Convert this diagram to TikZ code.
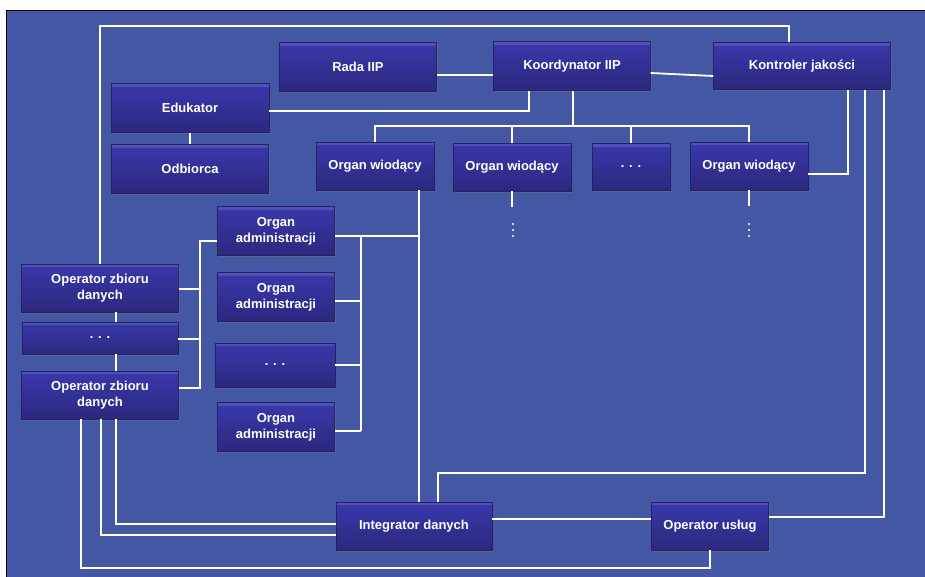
\documentclass[tikz,border=0pt]{standalone}
\usepackage{fontspec}
\setmainfont{Liberation Sans}
\usetikzlibrary{shadows}

\definecolor{slideblue}{RGB}{67,87,165}
\definecolor{boxtop}{RGB}{58,56,172}
\definecolor{boxbot}{RGB}{44,40,126}
\definecolor{boxedge}{RGB}{36,34,100}

\tikzset{
  unit/.style={rectangle, inner sep=0pt, align=center, text=white,
    font=\fontsize{13}{16}\selectfont\bfseries,
    top color=boxtop, bottom color=boxbot, draw=boxedge, line width=0.4pt,
    path picture={\fill[white, opacity=0.12] (path picture bounding box.north west)
      rectangle ([yshift=-3pt]path picture bounding box.north east);},
    drop shadow={shadow xshift=1pt, shadow yshift=-1.5pt, opacity=0.35}},
  link/.style={draw=white, line width=1.8pt},
}

\begin{document}
\begin{tikzpicture}[x=1pt, y=-1pt]

  % Slide frame
  \useasboundingbox (0,0) rectangle (925,576);
  \fill[white] (0,0) rectangle (925,576);
  \draw[fill=slideblue, line width=1pt] (6,10) rectangle (926,577);

  % Top row
  \node[unit, minimum width=157, minimum height=49] (rada)  at (358, 67) {Rada IIP};
  \node[unit, minimum width=157, minimum height=49] (koord) at (572, 66) {Koordynator IIP};
  \node[unit, minimum width=177, minimum height=47] (kontr) at (802, 66) {Kontroler jakości};

  \node[unit, minimum width=158, minimum height=49] (eduk) at (190, 108) {Edukator};
  \node[unit, minimum width=157, minimum height=49] (odb)  at (190, 169) {Odbiorca};

  % Lead organs
  \node[unit, minimum width=118, minimum height=48] (ow1) at (375, 166) {Organ wiodący};
  \node[unit, minimum width=118, minimum height=48] (ow2) at (512, 167) {Organ wiodący};
  \node[unit, minimum width=78,  minimum height=47] (owd) at (631, 167) {. . .};
  \node[unit, minimum width=118, minimum height=48] (ow3) at (749, 166) {Organ wiodący};

  % Administration organs
  \node[unit, minimum width=117, minimum height=49] (oa1) at (276, 231) {Organ\\administracji};
  \node[unit, minimum width=117, minimum height=49] (oa2) at (276, 297) {Organ\\administracji};
  \node[unit, minimum width=120, minimum height=44] (oad) at (275, 365) {. . .};
  \node[unit, minimum width=117, minimum height=49] (oa4) at (276, 427) {Organ\\administracji};

  % Data set operators
  \node[unit, minimum width=157, minimum height=48] (ozd1) at (100, 288) {Operator zbioru\\danych};
  \node[unit, minimum width=156, minimum height=32] (ozdd) at (100, 338) {. . .};
  \node[unit, minimum width=157, minimum height=48] (ozd2) at (100, 395) {Operator zbioru\\danych};

  % Bottom row
  \node[unit, minimum width=156, minimum height=48] (integ) at (414, 526) {Integrator danych};
  \node[unit, minimum width=117, minimum height=48] (ops)   at (710, 526) {Operator usług};

  \coordinate (tl)   at (789, 26);
  \coordinate (kbus) at (573, 126);
  \coordinate (kq)   at (865, 473);

  % Links at the top
  \draw[link] (rada.east |- 0,75) -- (koord.west |- 0,75);
  \draw[link] (koord.east |- 0,73) -- (kontr.west |- 0,76);
  \draw[link] (eduk.east |- 0,111) -| (koord.south -| 529,0);
  \draw[link] (eduk.south) -- (odb.north);
  \draw[link] (ozd1.north) |- (tl) -- (kontr.north -| tl);

  \draw[link] (koord.south -| kbus) -- (kbus);
  \draw[link] (ow1.north) |- (kbus) -| (ow3.north);
  \draw[link] (ow2.north) -- (ow2.north |- kbus);
  \draw[link] (owd.north) -- (owd.north |- kbus);
  \draw[link] (ow3.east |- 0,174) -| (kontr.south -| 848,0);

  % continued
  \draw[link] (ow2.south) -- ++(0,16);
  \draw[link] (ow3.south) -- ++(0,16);
  \foreach \y in {224,230,236} {
    \fill[white] (513,\y) circle (1.2);
    \fill[white] (749,\y) circle (1.2);
  }

  % Administration bus
  \draw[link] (ow1.south -| 419,0) -- (integ.north -| 419,0);
  \draw[link] (oa1.east |- 0,236) -- (419,236);
  \draw[link] (361,236) -- (361,431);
  \draw[link] (oa2.east |- 0,301) -- (361,301);
  \draw[link] (oad.east |- 0,365) -- (361,365);
  \draw[link] (oa4.east |- 0,431) -- (361,431);

  % Operator bus
  \draw[link] (oa1.west |- 0,241) -| (200,388) -- (ozd2.east |- 0,388);
  \draw[link] (ozd1.east |- 0,289) -- (200,289);
  \draw[link] (ozdd.east |- 0,339) -- (200,339);
  \draw[link] (ozd1.south -| 116,0) -- (ozdd.north -| 116,0);
  \draw[link] (ozdd.south -| 116,0) -- (ozd2.north -| 116,0);

  % Links at the bottom
  \draw[link] (ozd2.south -| 116,0) |- (integ.west |- 0,524);
  \draw[link] (ozd2.south -| 101,0) |- (integ.west |- 0,535);
  \draw[link] (ozd2.south -| 81,0) |- (710,568) -- (ops.south);
  \draw[link] (integ.east |- 0,519) -- (ops.west |- 0,519);
  \draw[link] (kontr.south -| kq) -- (kq) -| (integ.north -| 438,0);
  \draw[link] (kontr.south -| 884,0) |- (ops.east |- 0,517);

\end{tikzpicture}
\end{document}
